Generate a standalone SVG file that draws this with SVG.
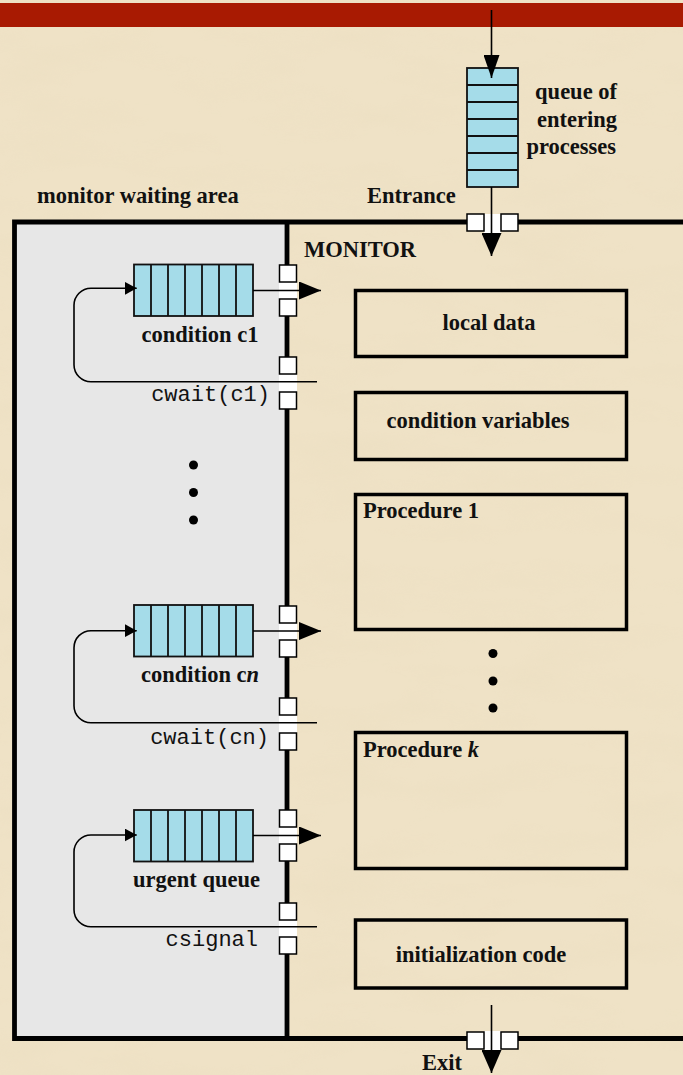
<svg xmlns="http://www.w3.org/2000/svg" width="683" height="1075" viewBox="0 0 683 1075">
<style>
.lbl{font-family:"Liberation Serif","Times New Roman",serif;font-weight:bold;font-size:22.5px;fill:#111}
.mono{font-family:"Liberation Mono","Courier New",monospace;font-size:22px;fill:#111}
.q{fill:#a5dce9;stroke:#111;stroke-width:1.8}
.qd{stroke:#111;stroke-width:1.8}
.sq{fill:#fff;stroke:#000;stroke-width:1.5}
.gap{fill:#fff}
.box{fill:none;stroke:#000;stroke-width:3.5}
.frame{stroke:#000;stroke-width:4.8;fill:none}
.ln{stroke:#000;stroke-width:1.6;fill:none}
.dot{fill:#000}
</style>
<defs>
<filter id="parch" x="0" y="0" width="100%" height="100%">
<feTurbulence type="fractalNoise" baseFrequency="0.01 0.03" numOctaves="4" seed="7"/>
<feColorMatrix type="matrix" values="0 0 0 0 0.82  0 0 0 0 0.72  0 0 0 0 0.52  1.6 0 0 0 -0.7"/>
</filter>
<marker id="ahOut" markerUnits="userSpaceOnUse" markerWidth="22" markerHeight="18" refX="22" refY="9" orient="auto"><path d="M0,0 L22,9 L0,18 z" fill="#000"/></marker>
<marker id="ahGate" markerUnits="userSpaceOnUse" markerWidth="23" markerHeight="20" refX="23" refY="10" orient="auto"><path d="M0,0 L23,10 L0,20 z" fill="#000"/></marker>
<marker id="ahTop" markerUnits="userSpaceOnUse" markerWidth="23" markerHeight="16" refX="23" refY="8" orient="auto"><path d="M0,0 L23,8 L0,16 z" fill="#000"/></marker>
<marker id="ahSmall" markerUnits="userSpaceOnUse" markerWidth="12" markerHeight="13" refX="12" refY="6.5" orient="auto"><path d="M0,0 L12,6.5 L0,13 z" fill="#000"/></marker>
</defs>

<g id="background">
<rect x="0" y="0" width="683" height="1075" fill="#efe2c6"/>
<rect x="0" y="0" width="683" height="1075" filter="url(#parch)" opacity="0.45"/>
<rect x="0" y="3" width="683" height="24" fill="#a81a02"/>
</g>

<g id="waiting-area">
<rect x="14.5" y="222" width="272.5" height="816.5" fill="#e7e7e7"/>
</g>

<g id="monitor-frame">
<path class="frame" d="M683,222 H14.5 V1038.5 H683"/>
<line class="frame" x1="287" y1="222" x2="287" y2="1038.5"/>
</g>

<g id="gates">
<rect class="gap" x="279" y="281" width="18" height="19"/>
<rect class="gap" x="279" y="373" width="18" height="20"/>
<rect class="gap" x="279" y="622" width="18" height="19"/>
<rect class="gap" x="279" y="714" width="18" height="20"/>
<rect class="gap" x="279" y="826" width="18" height="19"/>
<rect class="gap" x="279" y="919" width="18" height="19"/>
<rect class="gap" x="484" y="214" width="17" height="19"/>
<rect class="gap" x="484" y="1031" width="17" height="19"/>
<rect class="sq" x="279.5" y="265" width="17" height="17"/>
<rect class="sq" x="279.5" y="299" width="17" height="17"/>
<rect class="sq" x="279.5" y="357" width="17" height="17"/>
<rect class="sq" x="279.5" y="392" width="17" height="17"/>
<rect class="sq" x="279.5" y="606" width="17" height="17"/>
<rect class="sq" x="279.5" y="640" width="17" height="17"/>
<rect class="sq" x="279.5" y="698" width="17" height="17"/>
<rect class="sq" x="279.5" y="733" width="17" height="17"/>
<rect class="sq" x="279.5" y="810" width="17" height="17"/>
<rect class="sq" x="279.5" y="844" width="17" height="17"/>
<rect class="sq" x="279.5" y="903" width="17" height="17"/>
<rect class="sq" x="279.5" y="937" width="17" height="17"/>
<rect class="sq" x="467" y="214" width="17" height="17"/>
<rect class="sq" x="501" y="214" width="17" height="17"/>
<rect class="sq" x="467" y="1032" width="17" height="17"/>
<rect class="sq" x="501" y="1032" width="17" height="17"/>
</g>

<g id="entry-queue">
<rect class="q" x="467" y="68" width="51" height="119"/>
<line class="qd" x1="467" y1="85" x2="518" y2="85"/>
<line class="qd" x1="467" y1="102" x2="518" y2="102"/>
<line class="qd" x1="467" y1="119" x2="518" y2="119"/>
<line class="qd" x1="467" y1="136" x2="518" y2="136"/>
<line class="qd" x1="467" y1="153" x2="518" y2="153"/>
<line class="qd" x1="467" y1="170" x2="518" y2="170"/>
<text class="lbl" x="617" y="99" text-anchor="end">queue of</text>
<text class="lbl" x="617" y="127" text-anchor="end">entering</text>
<text class="lbl" x="616" y="154" text-anchor="end">processes</text>
</g>

<g id="queue-c1">
<rect class="q" x="134" y="264.5" width="119" height="51.5"/>
<path class="qd" d="M151,264.5V316M168,264.5V316M185,264.5V316M202,264.5V316M219,264.5V316M236,264.5V316"/>
<text class="lbl" x="200" y="342" text-anchor="middle">condition c1</text>
</g>

<g id="queue-cn">
<rect class="q" x="134" y="605" width="119" height="51.5"/>
<path class="qd" d="M151,605V656.5M168,605V656.5M185,605V656.5M202,605V656.5M219,605V656.5M236,605V656.5"/>
<text class="lbl" x="200" y="682" text-anchor="middle">condition c<tspan font-style="italic">n</tspan></text>
</g>

<g id="queue-urgent">
<rect class="q" x="134" y="810" width="119" height="51.5"/>
<path class="qd" d="M151,810V861.5M168,810V861.5M185,810V861.5M202,810V861.5M219,810V861.5M236,810V861.5"/>
<text class="lbl" x="196.5" y="887" text-anchor="middle">urgent queue</text>
</g>

<g id="box-local-data">
<rect class="box" x="355.5" y="290.5" width="271" height="66"/>
<text class="lbl" x="489" y="330" text-anchor="middle">local data</text>
</g>
<g id="box-condition-variables">
<rect class="box" x="355.5" y="392.5" width="271" height="67"/>
<text class="lbl" x="478" y="428" text-anchor="middle">condition variables</text>
</g>
<g id="box-procedure-1">
<rect class="box" x="355.5" y="494.5" width="271" height="135"/>
<text class="lbl" x="363" y="518">Procedure 1</text>
</g>
<g id="box-procedure-k">
<rect class="box" x="355.5" y="732.5" width="271" height="136"/>
<text class="lbl" x="363" y="757">Procedure <tspan font-style="italic">k</tspan></text>
</g>
<g id="box-initialization">
<rect class="box" x="355.5" y="920" width="271" height="68"/>
<text class="lbl" x="481" y="962" text-anchor="middle">initialization code</text>
</g>

<g id="ellipses">
<circle class="dot" cx="193.5" cy="465" r="4.5"/>
<circle class="dot" cx="193.5" cy="492.5" r="4.5"/>
<circle class="dot" cx="193.5" cy="520" r="4.5"/>
<circle class="dot" cx="493" cy="653.5" r="4.5"/>
<circle class="dot" cx="493" cy="681" r="4.5"/>
<circle class="dot" cx="493" cy="708" r="4.5"/>
</g>

<g id="labels">
<text class="lbl" x="37" y="203">monitor waiting area</text>
<text class="lbl" x="367" y="203">Entrance</text>
<text class="lbl" x="304" y="257">MONITOR</text>
<text class="lbl" x="422" y="1070">Exit</text>
<text class="mono" x="270" y="401" text-anchor="end">cwait(c1)</text>
<text class="mono" x="269" y="744" text-anchor="end">cwait(cn)</text>
<text class="mono" x="258" y="946" text-anchor="end">csignal</text>
</g>

<g id="connectors">
<line class="ln" x1="491.5" y1="10" x2="491.5" y2="78" marker-end="url(#ahTop)"/>
<line class="ln" x1="491.5" y1="187" x2="491.5" y2="256" marker-end="url(#ahGate)"/>
<line class="ln" x1="491.5" y1="1005" x2="491.5" y2="1073" marker-end="url(#ahGate)"/>
<line class="ln" x1="253" y1="290.5" x2="321" y2="290.5" marker-end="url(#ahOut)"/>
<line class="ln" x1="253" y1="631" x2="321" y2="631" marker-end="url(#ahOut)"/>
<line class="ln" x1="253" y1="835.5" x2="321" y2="835.5" marker-end="url(#ahOut)"/>
<path class="ln" d="M317,381.7 H91 A17,17 0 0 1 74,364.7 V305.3 A17,17 0 0 1 91,288.3 H136.7" marker-end="url(#ahSmall)"/>
<path class="ln" d="M317,722.7 H91 A17,17 0 0 1 74,705.7 V647.7 A17,17 0 0 1 91,630.7 H136.7" marker-end="url(#ahSmall)"/>
<path class="ln" d="M317,926.7 H91 A17,17 0 0 1 74,909.7 V852 A17,17 0 0 1 91,835 H136.7" marker-end="url(#ahSmall)"/>
</g>
</svg>
